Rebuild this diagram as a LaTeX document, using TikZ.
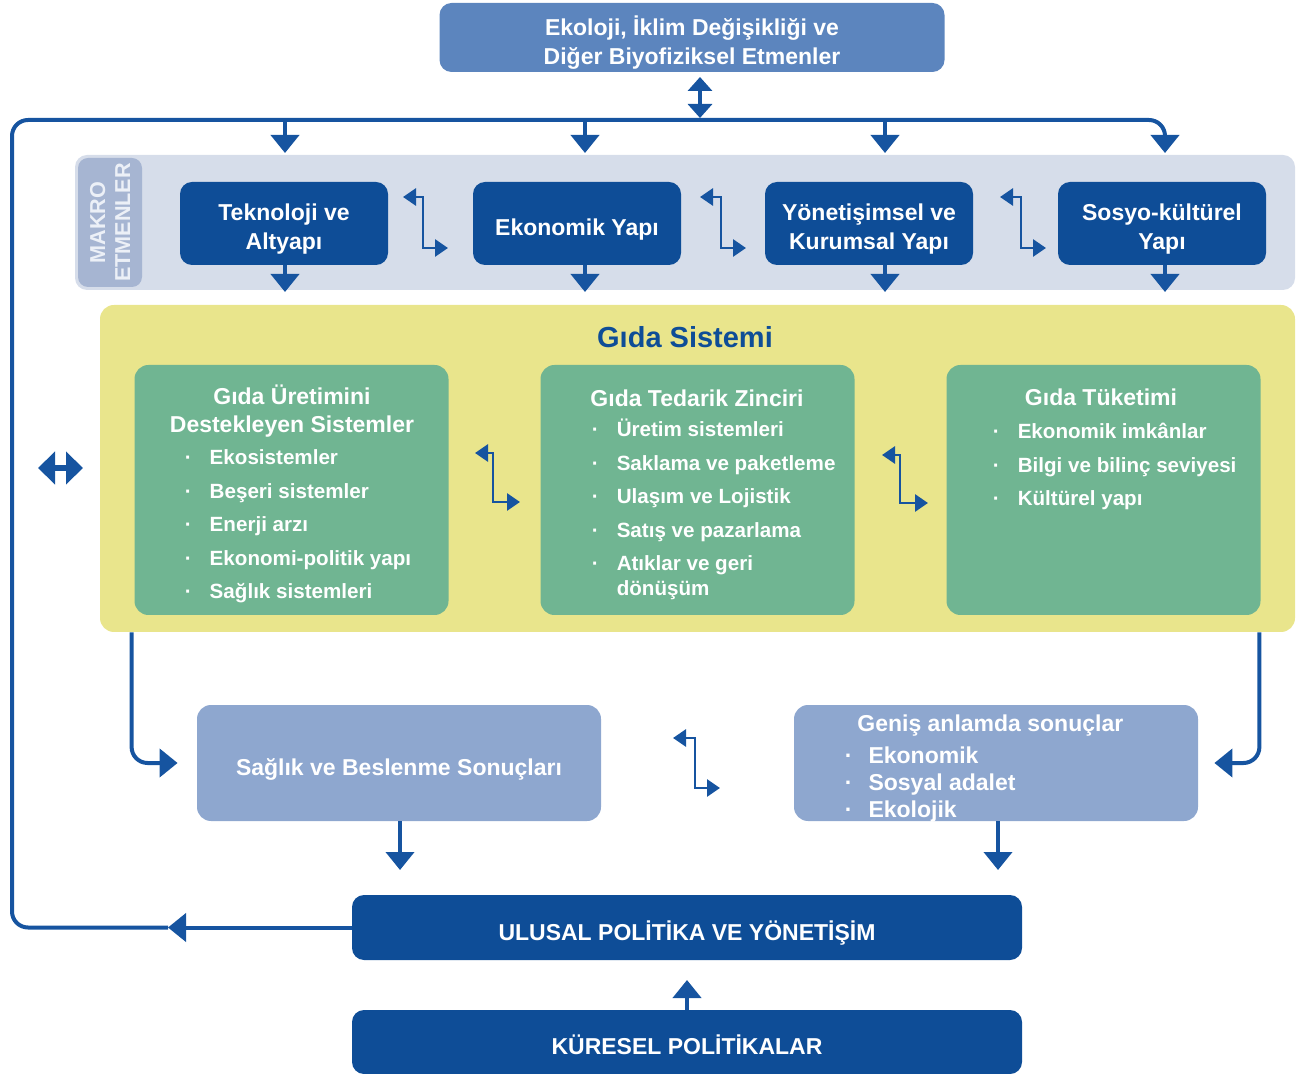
\documentclass[tikz,border=0pt]{standalone}
\usepackage{fontspec}
\setmainfont{Liberation Sans}
\usetikzlibrary{arrows.meta,positioning}

\definecolor{navy}{RGB}{14,77,151}
\definecolor{arrowblue}{RGB}{22,84,160}
\definecolor{midblue}{RGB}{92,133,190}
\definecolor{paleblue}{RGB}{142,167,207}
\definecolor{bandgray}{RGB}{214,221,234}
\definecolor{labelgray}{RGB}{166,181,210}
\definecolor{labeltext}{RGB}{236,240,247}
\definecolor{foodyellow}{RGB}{233,229,140}
\definecolor{foodgreen}{RGB}{112,181,146}

\begin{document}
\begin{tikzpicture}[
  x=0.5pt, y=-0.5pt,
  textdrop/.style={execute at begin node={\rule{0pt}{#1}}},
  bigarr/.style={draw=arrowblue, line width=2pt, rounded corners=8pt, -{Triangle[width=14pt,length=9pt]}},
  dblarr/.style={draw=arrowblue, line width=1.8pt, {Triangle[width=12pt,length=7pt]}-{Triangle[width=12pt,length=7pt]}},
  sidearr/.style={draw=arrowblue, line width=3pt, {Triangle[width=16pt,length=8.5pt]}-{Triangle[width=16pt,length=8.5pt]}},
  steparr/.style={draw=arrowblue, line width=1.4pt, {Triangle[width=8.5pt,length=6.5pt]}-{Triangle[width=8.5pt,length=6.5pt]}},
  boxtext/.style={text=white, align=center, inner sep=0pt, font=\bfseries\fontsize{11.5}{14.5}\selectfont},
  ecobox/.style={boxtext, fill=midblue, rounded corners=6pt, minimum width=252.5pt, minimum height=34.5pt, textdrop=29.6pt},
  band/.style={fill=bandgray, rounded corners=6pt, minimum width=610pt, minimum height=67.5pt},
  mlab/.style={fill=labelgray, rounded corners=5pt, text=labeltext, rotate=90, align=center, inner sep=0pt,
    minimum width=64.5pt, minimum height=32pt, font=\bfseries\fontsize{10.8}{12.5}\selectfont},
  macro/.style={boxtext, fill=navy, rounded corners=6pt, minimum width=104pt, minimum height=41.5pt, textdrop=14.4pt},
  food/.style={fill=foodyellow, rounded corners=7pt, minimum width=597.5pt, minimum height=163.5pt},
  part/.style={fill=foodgreen, rounded corners=7pt, minimum width=157pt, minimum height=125pt},
  ptitle/.style={boxtext, font=\bfseries\fontsize{11.5}{14}\selectfont},
  plist/.style={text=white, anchor=base west, inner sep=0pt, font=\bfseries\fontsize{10.3}{16.7}\selectfont},
  outc/.style={boxtext, fill=paleblue, rounded corners=7pt, minimum width=202pt, minimum height=58pt, textdrop=14.5pt},
  policy/.style={boxtext, fill=navy, rounded corners=6pt, minimum width=335pt, minimum height=32.5pt, textdrop=12.6pt}
]
\useasboundingbox (0,0) rectangle (1301,1074);

% Top: biophysical drivers
\node[ecobox] (eco) at (692,37.5) {Ekoloji, İklim Değişikliği ve\\Diğer Biyofiziksel Etmenler};

% Macro drivers band
\node[band] (band) at (685,222.5) {};
\node[mlab] (mlabel) at (110,222.5) {MAKRO\\ETMENLER};
\node[macro, textdrop=28.4pt] (mac1) at (284,223.5) {Teknoloji ve\\Altyapı};
\node[macro] (mac2) at (577,223.5) {Ekonomik Yapı};
\node[macro, textdrop=28.1pt] (mac3) at (869,223.5) {Yönetişimsel ve\\Kurumsal Yapı};
\node[macro, textdrop=28.4pt] (mac4) at (1162,223.5) {Sosyo-kültürel\\Yapı};

% Food system
\node[food] (food) at (697.5,468.5) {};
\node[font=\bfseries\fontsize{14.5}{17}\selectfont, text=navy, inner sep=0pt] (fsys) at (685,337) {Gıda Sistemi};

\node[part] (prod) at (291.5,490) {};
\node[part] (chain) at (697.5,490) {};
\node[part] (cons) at (1103.5,490) {};

\node[ptitle] (prodT) at (292,411) {Gıda Üretimini\\Destekleyen Sistemler};
\node[ptitle] (chainT) at (697,398) {Gıda Tedarik Zinciri};
\node[ptitle] (consT) at (1101,397) {Gıda Tüketimi};

\node[plist] (prodL) at (184.5,465) {\begin{tabular}[t]{@{}l@{\hspace{9pt}}l@{}}
  · & Ekosistemler\\
  · & Beşeri sistemler\\
  · & Enerji arzı\\
  · & Ekonomi-politik yapı\\
  · & Sağlık sistemleri
\end{tabular}};
\node[plist] (chainL) at (591.5,437) {\begin{tabular}[t]{@{}l@{\hspace{9pt}}l@{}}
  · & Üretim sistemleri\\
  · & Saklama ve paketleme\\
  · & Ulaşım ve Lojistik\\
  · & Satış ve pazarlama\\
  · & Atıklar ve geri\\[-4pt]
    & dönüşüm
\end{tabular}};
\node[plist] (consL) at (992.5,439) {\begin{tabular}[t]{@{}l@{\hspace{9pt}}l@{}}
  · & Ekonomik imkânlar\\
  · & Bilgi ve bilinç seviyesi\\
  · & Kültürel yapı
\end{tabular}};

% Outcomes
\node[outc] (hlth) at (399,763) {Sağlık ve Beslenme Sonuçları};
\node[outc] (wide) at (996,763) {};
\node[boxtext, anchor=west] (wideT) at (857,726) {Geniş anlamda sonuçlar};
\node[plist, font=\bfseries\fontsize{11.5}{13.5}\selectfont] (wideL) at (844.5,763) {\begin{tabular}[t]{@{}l@{\hspace{8pt}}l@{}}
  · & Ekonomik\\
  · & Sosyal adalet\\
  · & Ekolojik
\end{tabular}};

% Policies
\node[policy, textdrop=15.6pt] (pol) at (687,927.5) {ULUSAL POLİTİKA VE YÖNETİŞİM};
\node[policy, minimum height=32pt] (glob) at (687,1042) {KÜRESEL POLİTİKALAR};

% Arrow end points
\coordinate (ea) at (700,77);
\coordinate (eb) at (700,118);
\coordinate (topL) at (12,120);
\coordinate (fbtip) at (168,927.5);
\coordinate (u1) at (285,153);
\coordinate (u2) at (585,153);
\coordinate (u3) at (885,153);
\coordinate (u4) at (1165,153);
\coordinate (d1) at (285,292);
\coordinate (d2) at (585,292);
\coordinate (d3) at (885,292);
\coordinate (d4) at (1165,292);
\coordinate (la) at (38,468);
\coordinate (lb) at (83,468);
\coordinate (t1) at (400,870);
\coordinate (t2) at (998,870);
\coordinate (tup) at (687,980);

% Feedback loop and top arrows
\draw[dblarr] (ea) -- (eb);
\draw[bigarr] (pol.west) -- (fbtip);
\draw[bigarr] (fbtip) -| (topL) -| (u4);
\draw[bigarr] (u1 |- topL) -- (u1);
\draw[bigarr] (u2 |- topL) -- (u2);
\draw[bigarr] (u3 |- topL) -- (u3);
\draw[sidearr] (la) -- (lb);

% Macro drivers -> food system
\draw[bigarr] (d1 |- mac1.south) -- (d1);
\draw[bigarr] (d2 |- mac2.south) -- (d2);
\draw[bigarr] (d3 |- mac3.south) -- (d3);
\draw[bigarr] (d4 |- mac4.south) -- (d4);

% Interactions
\coordinate (s1a) at (403,197); \coordinate (s1b) at (448,248);
\coordinate (s2a) at (700,197); \coordinate (s2b) at (746,248);
\coordinate (s3a) at (1000,197); \coordinate (s3b) at (1046,248);
\coordinate (g1a) at (475,453); \coordinate (g1b) at (520,502);
\coordinate (g2a) at (882,455); \coordinate (g2b) at (928,503);
\coordinate (o1a) at (673,738); \coordinate (o1b) at (720,788);
\draw[steparr] (s1a) -- ++(20,0) |- (s1b);
\draw[steparr] (s2a) -- ++(21,0) |- (s2b);
\draw[steparr] (s3a) -- ++(21,0) |- (s3b);
\draw[steparr] (g1a) -- ++(18,0) |- (g1b);
\draw[steparr] (g2a) -- ++(18,0) |- (g2b);
\draw[steparr] (o1a) -- ++(22,0) |- (o1b);

% Food system -> outcomes -> policy
\draw[bigarr] ([xshift=16pt]food.south west) |- ([xshift=-9.5pt]hlth.west);
\draw[bigarr] ([xshift=-18pt]food.south east) |- ([xshift=8pt]wide.east);
\draw[bigarr] (hlth.south -| t1) -- (t1);
\draw[bigarr] (wide.south -| t2) -- (t2);
\draw[bigarr] (glob.north -| tup) -- (tup);

\end{tikzpicture}
\end{document}
